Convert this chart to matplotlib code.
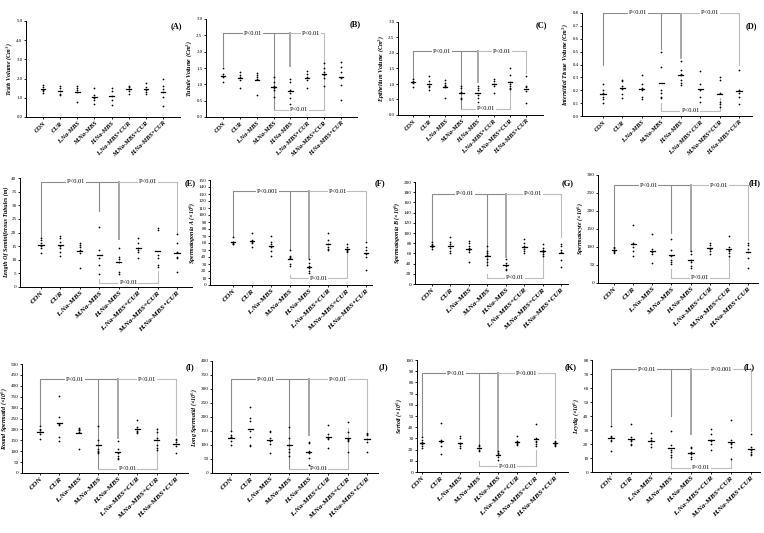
import numpy as np
import matplotlib
matplotlib.use("Agg")
import matplotlib.pyplot as plt

plt.rcParams['font.family'] = ['Liberation Serif', 'DejaVu Serif']

groups = ["CON", "CUR", "L.Na-MBS", "M.Na-MBS", "H.Na-MBS",
          "L.Na-MBS+CUR", "M.Na-MBS+CUR", "H.Na-MBS+CUR"]

# individual values per group
testis_vol = [[1.66, 1.54, 1.43, 1.36, 1.26], [1.61, 1.49, 1.36, 1.22, 1.14],
              [1.61, 1.50, 1.40, 1.29, 0.79], [1.49, 1.14, 1.00, 0.87, 0.70],
              [1.52, 1.36, 1.10, 0.87, 0.61], [1.63, 1.54, 1.45, 1.35, 1.22],
              [1.75, 1.54, 1.43, 1.31, 1.19], [1.98, 1.60, 1.45, 1.30, 1.05, 0.56]]
tubule_vol = [[1.49, 1.32, 1.25, 1.21, 1.08], [1.39, 1.28, 1.21, 1.13, 0.90],
              [1.36, 1.28, 1.21, 1.15, 0.67], [1.23, 1.08, 0.95, 0.88, 0.82, 0.62],
              [1.15, 1.08, 0.82, 0.74, 0.57, 0.39], [1.42, 1.32, 1.21, 1.13, 0.90],
              [1.66, 1.49, 1.39, 1.28, 1.18, 0.95], [1.69, 1.54, 1.39, 1.18, 0.98, 0.53]]
epith_vol = [[1.15, 1.10, 1.07, 1.03, 0.90], [1.25, 1.10, 1.00, 0.95, 0.90, 0.80],
             [1.12, 1.02, 0.97, 0.93, 0.90, 0.55], [0.95, 0.88, 0.75, 0.70, 0.55, 0.50],
             [0.92, 0.88, 0.80, 0.65, 0.55, 0.42], [1.15, 1.10, 1.00, 0.95, 0.72],
             [1.50, 1.30, 1.08, 1.00, 0.92, 0.88, 0.85], [1.25, 0.95, 0.90, 0.78, 0.38]]
interst_vol = [[0.25, 0.20, 0.18, 0.17, 0.15, 0.13, 0.10], [0.28, 0.27, 0.23, 0.21, 0.17, 0.14],
               [0.32, 0.25, 0.22, 0.21, 0.20, 0.15, 0.13], [0.50, 0.38, 0.20, 0.18, 0.15, 0.14],
               [0.43, 0.36, 0.33, 0.32, 0.28, 0.26, 0.24], [0.35, 0.25, 0.20, 0.15, 0.11],
               [0.30, 0.28, 0.18, 0.11, 0.09, 0.07], [0.36, 0.20, 0.18, 0.15, 0.09]]
tubule_len = [[17.8, 17.2, 16.0, 15.1, 14.4, 12.3], [18.7, 17.8, 16.6, 15.1, 14.4, 12.9, 11.3],
              [16.0, 15.4, 14.8, 13.5, 12.3, 6.8], [22.2, 13.5, 10.5, 8.2, 4.6],
              [14.4, 11.0, 10.2, 9.0, 5.5, 4.9], [18.1, 16.0, 14.2, 13.5, 12.7, 10.7],
              [21.5, 20.9, 11.7, 10.5, 8.2, 7.4], [19.3, 16.0, 12.7, 11.0, 10.5, 5.5]]
sperm_a = [[68, 62, 61, 60, 59, 58], [75, 65, 62, 60, 55],
           [70, 62, 58, 55, 48, 42], [50, 42, 40, 38, 30, 27],
           [37, 32, 27, 24, 20, 17], [74, 64, 58, 55, 52, 50],
           [58, 55, 52, 50, 48, 47], [62, 55, 50, 45, 40, 21]]
sperm_b = [[82, 78, 76, 74, 72, 68], [92, 82, 78, 74, 70, 65, 60],
           [85, 80, 74, 70, 67, 62, 44], [74, 65, 60, 56, 50, 44, 38],
           [50, 42, 38, 35, 30, 28], [88, 80, 75, 72, 68, 64, 60],
           [78, 70, 66, 62, 58, 55], [78, 74, 66, 62, 48, 34]]
spermatocyte = [[100, 96, 93, 90, 86, 84], [160, 110, 107, 100, 90, 75],
                [135, 95, 90, 85, 80, 55], [122, 92, 75, 65, 57, 52],
                [88, 80, 65, 57, 47, 42], [110, 105, 98, 95, 90, 80],
                [130, 100, 92, 88, 82, 75], [112, 105, 95, 85, 70, 42]]
round_sp = [[215, 200, 195, 190, 180, 158], [352, 255, 225, 222, 165, 148],
            [208, 200, 198, 195, 190, 110], [215, 150, 110, 100, 95, 92],
            [148, 110, 92, 80, 70, 65], [245, 210, 200, 192, 188, 185],
            [200, 188, 160, 130, 115, 105], [158, 150, 140, 125, 90]]
long_sp = [[150, 135, 130, 128, 115, 100], [235, 195, 185, 150, 130, 100, 95],
           [150, 145, 125, 115, 105, 70], [165, 125, 100, 85, 75, 60],
           [112, 108, 80, 70, 55, 30], [170, 140, 130, 125, 120, 90],
           [182, 145, 120, 118, 115, 75], [142, 140, 135, 120, 110, 75]]
sertoli = [[31, 29, 27, 25, 23, 21], [44, 29, 27, 23, 16],
           [32, 30, 26, 25, 23, 21], [24, 23, 21, 20, 19],
           [19, 17, 16, 15, 13, 11], [32, 28, 27, 26, 25, 24],
           [43, 30, 28, 27, 25, 23], [28, 27, 26, 25, 24, 23]]
leydig = [[33, 26, 25, 23, 22, 15], [34, 25, 23, 22, 20, 19],
          [28, 24, 23, 22, 20, 18], [29, 19, 16, 14, 12, 11],
          [18, 17, 14, 13, 11, 9], [31, 27, 23, 22, 20, 16],
          [37, 23, 21, 20, 18, 9], [27, 18, 16, 14, 13, 12]]

ylabels = ["Testis Volume (Cm$^3$)", "Tubule Volume (Cm$^3$)",
           "Epithelium Volume (Cm$^3$)", "Interstitial Tissue Volume (Cm$^3$)",
           "Length Of Seminiferous Tubules (m)", "Spermatogonia A (\u00d710$^6$)",
           "Spermatogonia B (\u00d710$^6$)", "Spermatocyte (\u00d710$^6$)",
           "Round Spermatid (\u00d710$^6$)", "Long Spermatid (\u00d710$^6$)",
           "Sertoli (\u00d710$^6$)", "Leydig (\u00d710$^6$)"]
letters = list("ABCDEFGHIJKL")
pvals = [None,
         ("P<0.01", "P<0.01", "P<0.01"), ("P<0.01", "P<0.01", "P<0.01"),
         ("P<0.01", "P<0.01", "P<0.01"), ("P<0.01", "P<0.01", "P<0.01"),
         ("P<0.001", "P<0.01", "P<0.01"), ("P<0.01", "P<0.01", "P<0.01"),
         ("P<0.01", "P<0.01", "P<0.01"), ("P<0.01", "P<0.01", "P<0.01"),
         ("P<0.01", "P<0.01", "P<0.01"), ("P<0.01", "P<0.001", "P<0.01"),
         ("P<0.01", "P<0.001", "P<0.01")]
data = [testis_vol, tubule_vol, epith_vol, interst_vol, tubule_len, sperm_a,
        sperm_b, spermatocyte, round_sp, long_sp, sertoli, leydig]

W, H = 764, 533
# pixel layout: y-axis x, x-axis end, CON x, last group x, top y, zero y
layout = [(26, 180, 43, 163, 21, 117), (206, 357, 223, 341, 19, 117),
          (398, 543, 413, 526, 22, 115), (582, 752, 603, 739, 13, 116),
          (20, 192, 41, 177, 178, 287), (210, 372, 233, 366, 180, 285),
          (415, 568, 432, 561, 182, 284), (598, 758, 614, 748, 175, 283),
          (22, 188, 40, 176, 364, 473), (212, 378, 231, 367, 361, 473),
          (417, 568, 422, 555, 360, 472), (592, 760, 611, 751, 360, 472)]
yticks = [(5, 1, "%.1f"), (3, 0.5, "%.1f"), (3, 0.5, "%.1f"), (0.8, 0.1, "%.1f"),
          (40, 5, "%d"), (150, 10, "%d"), (200, 20, "%d"), (300, 50, "%d"),
          (500, 50, "%d"), (400, 50, "%d"), (100, 10, "%d"), (80, 10, "%d")]
# bracket levels: top, bottom, CON drop, M drop, H drop, right end, right drop, M low rise, M+CUR rise
brk = [None,
       (2.57, 0.22, 1.55, 0.22, 1.55, 7, 0.22, 0.22, 0.22),
       (2.05, 0.20, 1.20, 0.20, 1.05, 8, 1.35, 0.20, 0.80),
       (0.80, 0.04, 0.40, 0.52, 0.45, 8, 0.40, 0.10, 0.14),
       (38.7, 1.6, 18.5, 28, 17.5, 8, 20, 3, 6),
       (134, 10, 70, 52, 38, 8, 65, 15, 45),
       (177, 12, 85, 38, 52, 8, 93, 20, 60),
       (271, 15, 105, 139, 88, 8, 120, 40, 75),
       (431, 20, 220, 20, 160, 8, 175, 20, 205),
       (335, 15, 155, 15, 135, 8, 150, 15, 160),
       (88, 5, 32, 25, 18, 8, 30, 10, 20),
       (73.5, 3, 34, 40, 27, 8, 29, 10, 10)]
label_pos = [(176, 26), (355, 24), (541, 25), (751, 26),
             (190, 183), (380, 183), (568, 183), (755, 183),
             (190, 367), (383, 367), (571, 367), (749, 367)]

dark = '#8c8c8c'
light = '#bdbdbd'
xpos = np.arange(1, 9)

fig = plt.figure(figsize=(W / 100, H / 100), dpi=100)
for i in range(12):
    yx, xend, cx, lx, ty, zy = layout[i]
    s = (lx - cx) / 7.0
    ax = fig.add_axes([yx / W, 1 - zy / H, (xend - yx) / W, (zy - ty) / H])
    ymax, step, fmt = yticks[i]
    ax.set_ylim(0, ymax)
    ax.set_xlim(1 - (cx - yx) / s, 8 + (xend - lx) / s)
    row_small = i < 4
    fs_tick = 3.5 if row_small else 3.7
    fs_cat = 4.6 if row_small else 5.4

    vals = data[i]
    for k, v in enumerate(vals):
        ax.scatter(np.full(len(v), xpos[k]), v, s=1.6, color='black', lw=0, zorder=3)
        ax.plot([xpos[k] - 0.13, xpos[k] + 0.13], [np.mean(v)] * 2,
                color='black', lw=0.9, zorder=3)

    if brk[i] is not None:
        T, B, con_lo, m_lo, h_lo, r_end, r_lo, mb_hi, mc_hi = brk[i]
        p1, p2, p3 = pvals[i]
        lw = 0.8
        ax.plot([1, 1, 5], [con_lo, T, T], color=dark, lw=lw, zorder=1)
        ax.plot([4, 4], [T, m_lo], color=dark, lw=lw, zorder=1)
        ax.plot([5, 5], [T, h_lo], color='#a6a6a6', lw=1.4, zorder=1)
        ax.plot([5, r_end, r_end], [T, T, r_lo], color=light, lw=lw, zorder=1)
        ax.plot([4, 4, 7, 7], [mb_hi, B, B, mc_hi], color=light, lw=lw, zorder=1)
        bb = dict(facecolor='white', edgecolor='none', pad=0.6)
        ax.text(2.8, T, p1, fontsize=4.6, ha='center', va='center', bbox=bb, zorder=2)
        ax.text(6.2 if r_end == 7 else 6.5, T, p2, fontsize=4.6, ha='center',
                va='center', bbox=bb, zorder=2)
        ax.text(5.5, B, p3, fontsize=4.6, ha='center', va='center', bbox=bb, zorder=2)

    ax.spines['top'].set_visible(False)
    ax.spines['right'].set_visible(False)
    for sp in ('left', 'bottom'):
        ax.spines[sp].set_linewidth(0.7)
    ax.set_yticks(np.arange(0, ymax + step / 2, step))
    ax.set_yticklabels([fmt % t for t in np.arange(0, ymax + step / 2, step)],
                       fontsize=fs_tick)
    ax.set_xticks(xpos)
    ax.set_xticklabels(groups, rotation=45, ha='right', rotation_mode='anchor',
                       fontsize=fs_cat, style='italic', fontweight='bold')
    ax.tick_params(length=1.5, width=0.6, pad=1.0)
    ax.set_ylabel(ylabels[i], fontsize=4.3, style='italic', fontweight='bold',
                  labelpad=1.5)
    lx_, ly_ = label_pos[i]
    fig.text(lx_ / W, 1 - ly_ / H, "(%s)" % letters[i], fontsize=6,
             fontweight='bold', ha='center', va='center')

fig.savefig("out.png", dpi=100)
